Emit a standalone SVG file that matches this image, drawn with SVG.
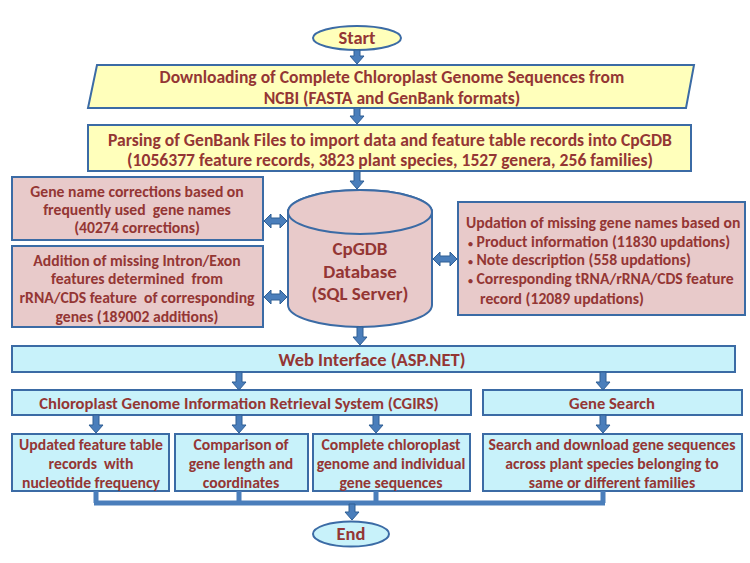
<svg xmlns="http://www.w3.org/2000/svg" width="750" height="563" viewBox="0 0 750 563">
<style>
  text { font-family: Carlito, "Liberation Sans Narrow", "Liberation Sans", sans-serif; font-weight: bold; fill: #943634; font-size: 15.7px; white-space: pre; }
  .c { text-anchor: middle; }
  .t17 { font-size: 17.6px; }
  .t18 { font-size: 18.5px; }
  .t16 { font-size: 16.6px; }
  .big { font-size: 19px; }
  .b { font-size: 10px; }
  .yel { fill: #FFFFBB; stroke: #3B6BA5; stroke-width: 2; }
  .pink { fill: #E8CACA; stroke: #3B6BA5; stroke-width: 2; }
  .cyan { fill: #C8F2FA; stroke: #3B6BA5; stroke-width: 2; }
  .arr { fill: #4A7EBB; stroke: #2F5E94; stroke-width: 1; }
  .line { stroke: #4A7EBB; stroke-width: 5; fill: none; }
</style>
<rect width="750" height="563" fill="#ffffff"/>

<g id="start">
  <ellipse class="yel" cx="357" cy="38" rx="44" ry="12"/>
  <text class="c t18" x="357" y="44">Start</text>
</g>
<g id="download">
  <polygon class="yel" points="97,65 694,65 686,108 88,108"/>
  <text class="c t17" x="392" y="83">Downloading of Complete Chloroplast Genome Sequences from</text>
  <text class="c t17" x="392" y="104">NCBI (FASTA and GenBank formats)</text>
</g>
<g id="parsing">
  <rect class="yel" x="88" y="125" width="603" height="46"/>
  <text class="c t17" x="390" y="146">Parsing of GenBank Files to import data and feature table records into CpGDB</text>
  <text class="c t17" x="390" y="166">(1056377 feature records, 3823 plant species, 1527 genera, 256 families)</text>
</g>
<g id="genename">
  <rect class="pink" x="12" y="177" width="251" height="63"/>
  <text class="c" x="137" y="197">Gene name corrections based on</text>
  <text class="c" x="137" y="215" xml:space="preserve">frequently used  gene names</text>
  <text class="c" x="137" y="233">(40274 corrections)</text>
</g>
<g id="addition">
  <rect class="pink" x="12" y="246" width="251" height="81"/>
  <text class="c" x="137" y="266">Addition of missing Intron/Exon</text>
  <text class="c" x="137" y="284" xml:space="preserve">features determined  from</text>
  <text class="c" x="137" y="303" xml:space="preserve">rRNA/CDS feature  of corresponding</text>
  <text class="c" x="137" y="322">genes (189002 additions)</text>
</g>
<g id="database">
  <path class="pink" d="M288,212 L288,305 A72,22 0 0 0 432,305 L432,212 A72,22 0 0 0 288,212 Z"/>
  <ellipse class="pink" cx="360" cy="212" rx="72" ry="22"/>
  <text class="c big" x="360" y="255">CpGDB</text>
  <text class="c big" x="360" y="278">Database</text>
  <text class="c big" x="360" y="300">(SQL Server)</text>
</g>
<g id="updation">
  <rect class="pink" x="458" y="202" width="287" height="113"/>
  <text x="466" y="228">Updation of missing gene names based on</text>
  <text x="468" y="247"><tspan class="b">•</tspan> Product information (11830 updations)</text>
  <text x="468" y="265"><tspan class="b">•</tspan> Note description (558 updations)</text>
  <text x="468" y="284"><tspan class="b">•</tspan> Corresponding tRNA/rRNA/CDS feature</text>
  <text x="480" y="304">record (12089 updations)</text>
</g>
<g id="web">
  <rect class="cyan" x="12" y="346" width="723" height="26"/>
  <text class="c t18" x="372" y="366">Web Interface (ASP.NET)</text>
</g>
<g id="cgirs">
  <rect class="cyan" x="12" y="390" width="459" height="25"/>
  <text class="c t16" x="239" y="409">Chloroplast Genome Information Retrieval System (CGIRS)</text>
</g>
<g id="genesearch">
  <rect class="cyan" x="483" y="390" width="259" height="25"/>
  <text class="c t16" x="612" y="409">Gene Search</text>
</g>
<g id="updated">
  <rect class="cyan" x="12" y="434" width="157" height="57"/>
  <text class="c" x="91" y="450">Updated feature table</text>
  <text class="c" x="91" y="469" xml:space="preserve">records  with</text>
  <text class="c" x="91" y="488">nucleotide frequency</text>
</g>
<g id="comparison">
  <rect class="cyan" x="175" y="434" width="133" height="57"/>
  <text class="c" x="241" y="450">Comparison of</text>
  <text class="c" x="241" y="469">gene length and</text>
  <text class="c" x="241" y="488">coordinates</text>
</g>
<g id="complete">
  <rect class="cyan" x="313" y="434" width="157" height="57"/>
  <text class="c" x="391" y="450">Complete chloroplast</text>
  <text class="c" x="391" y="469">genome and individual</text>
  <text class="c" x="391" y="488">gene sequences</text>
</g>
<g id="search">
  <rect class="cyan" x="483" y="434" width="259" height="57"/>
  <text class="c" x="612" y="450">Search and download gene sequences</text>
  <text class="c" x="612" y="469">across plant species belonging to</text>
  <text class="c" x="612" y="488">same or different families</text>
</g>
<g id="end">
  <ellipse class="cyan" cx="351" cy="534" rx="38" ry="12.5"/>
  <text class="c t18" x="351" y="540">End</text>
</g>

<g id="connectors">
  <polygon class="arr" points="354,50 360,50 360,56 364,56 357,64 350,56 354,56"/>
  <polygon class="arr" points="354,108 360,108 360,116 364,116 357,124 350,116 354,116"/>
  <polygon class="arr" points="354,171 360,171 360,181 364,181 357,189 350,181 354,181"/>
  <polygon class="arr" points="357,327 363,327 363,337 367,337 360,345 353,337 357,337"/>
  <polygon class="arr" points="236,372 242,372 242,382 246,382 239,390 232,382 236,382"/>
  <polygon class="arr" points="600,372 606,372 606,382 610,382 603,390 596,382 600,382"/>
  <polygon class="arr" points="93,415 99,415 99,425 103,425 96,433 89,425 93,425"/>
  <polygon class="arr" points="236,415 242,415 242,425 246,425 239,433 232,425 236,425"/>
  <polygon class="arr" points="373,415 379,415 379,425 383,425 376,433 369,425 373,425"/>
  <polygon class="arr" points="600,415 606,415 606,425 610,425 603,433 596,425 600,425"/>
  <polygon class="arr" points="264,221 271,214 271,218 280,218 280,214 287,221 280,228 280,224 271,224 271,228"/>
  <polygon class="arr" points="264,297 271,290 271,294 280,294 280,290 287,297 280,304 280,300 271,300 271,304"/>
  <polygon class="arr" points="433,259 440,252 440,256 450,256 450,252 457,259 450,266 450,262 440,262 440,266"/>
  <path class="line" d="M96,491 V503 M239,491 V503 M376,491 V503 M603,491 V503 M94,503 H605"/>
  <polygon class="arr" points="349,504 355,504 355,512 359,512 352,520 345,512 349,512"/>
</g>
</svg>
